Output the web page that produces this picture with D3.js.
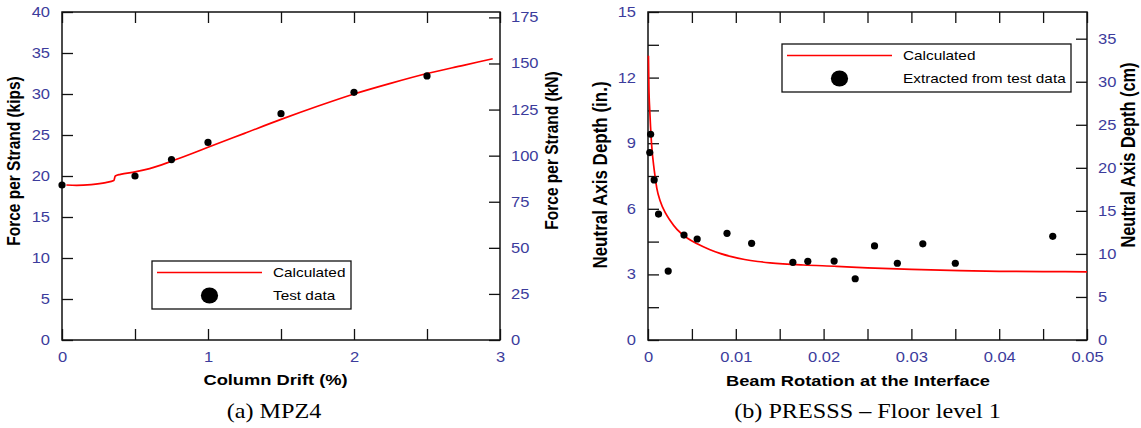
<!DOCTYPE html>
<html>
<head>
<meta charset="utf-8">
<script src="https://cdn.jsdelivr.net/npm/d3@7"></script>
<style>
  body { margin: 0; background: #fff; }
  svg { display: block; font-family: "Liberation Sans", Arial, sans-serif; }
</style>
</head>
<body>
<svg id="chart" width="1141" height="428"></svg>
<script>
// (a) MPZ4 - force per strand vs column drift
const driftTest = [0, 0.5, 0.75, 1.0, 1.5, 2.0, 2.5];
const forceTest = [18.9, 20.0, 22.0, 24.1, 27.6, 30.2, 32.2];
const driftCalc = [0.03, 0.1, 0.2, 0.3, 0.355, 0.365, 0.4, 0.5, 0.6, 0.75, 0.9, 1.0, 1.25, 1.5, 1.75, 2.0, 2.25, 2.5, 2.75, 2.95];
const forceCalc = [18.9, 18.85, 18.95, 19.2, 19.45, 20.0, 20.2, 20.5, 20.9, 21.8, 22.8, 23.5, 25.2, 26.9, 28.5, 30.0, 31.3, 32.5, 33.5, 34.3];

// (b) PRESSS floor level 1 - neutral axis depth vs beam rotation
const rotTest = [0.0002, 0.0003, 0.0007, 0.0012, 0.0023, 0.0041, 0.0056, 0.0090, 0.0118, 0.0165, 0.0182, 0.0212, 0.0236, 0.0258, 0.0284, 0.0313, 0.0350, 0.0461];
const depthTest = [8.57, 9.41, 7.32, 5.76, 3.15, 4.80, 4.62, 4.88, 4.42, 3.55, 3.60, 3.61, 2.80, 4.30, 3.51, 4.40, 3.51, 4.74];
const rotCalc = [0.00005, 0.0001, 0.0002, 0.0004, 0.0007, 0.001, 0.0014, 0.002, 0.0025, 0.0033, 0.0045, 0.0056, 0.007, 0.0082, 0.0095, 0.011, 0.0125, 0.0139, 0.0177, 0.0215, 0.025, 0.03, 0.0355, 0.04, 0.045, 0.05];
const depthCalc = [13.0, 11.6, 10.5, 9.0, 7.8, 6.95, 6.35, 5.8, 5.48, 5.06, 4.65, 4.40, 4.14, 3.96, 3.81, 3.68, 3.59, 3.53, 3.43, 3.37, 3.3, 3.23, 3.17, 3.14, 3.13, 3.12];

// ticks
const driftTicks = [0, 0.5, 1, 1.5, 2, 2.5, 3];
const kipTicks = [0, 5, 10, 15, 20, 25, 30, 35, 40];
const kNTicks = [0, 25, 50, 75, 100, 125, 150, 175];
const rotTicks = d3.range(0, 0.0501, 0.005);
const inTicks = d3.range(0, 15.01, 1.5);
const cmTicks = [0, 5, 10, 15, 20, 25, 30, 35];

const KIP_TO_KN = 4.448222;
const IN_TO_CM = 2.54;

const SX = 1.18;            // picture is a bit wider than tall
const tickColor = '#3c3c9c';
const svg = d3.select('#chart');

// stretch d3 axis labels horizontally without moving them
function stretchLabels(g) {
    g.selectAll('text').each(function () {
        let t = d3.select(this);
        let x = +t.attr('x') || 0, y = +t.attr('y') || 0;
        t.attr('x', 0).attr('y', 0)
            .attr('transform', 'translate(' + x + ',' + y + ') scale(' + SX + ',1)');
    });
}

function styleAxis(g) {
    g.select('.domain').remove();
    g.selectAll('line').attr('stroke', '#111').attr('stroke-width', 1.3);
    g.selectAll('text')
        .attr('fill', tickColor)
        .style('font-size', '14px')
        .style('font-family', '"Liberation Sans", Arial, sans-serif');
    stretchLabels(g);
}

function hText(x, y, str, size, opts) {
    opts = opts || {};
    return svg.append('text')
        .attr('transform', 'translate(' + x + ',' + y + ') scale(' + SX + ',1)')
        .attr('text-anchor', opts.anchor || 'middle')
        .style('font-size', size + 'px')
        .style('font-weight', opts.bold ? 'bold' : 'normal')
        .style('font-family', opts.serif ? '"Liberation Serif", "Times New Roman", serif' : null)
        .attr('fill', '#000')
        .text(str);
}

function vText(x, y, str, size) {
    return svg.append('text')
        .attr('transform', 'translate(' + x + ',' + y + ') scale(' + SX + ',1) rotate(-90)')
        .attr('text-anchor', 'middle')
        .style('font-size', size + 'px')
        .style('font-weight', 'bold')
        .attr('fill', '#000')
        .text(str);
}

function panel(cfg) {
    let x = d3.scaleLinear().domain(cfg.xDomain).range([cfg.left, cfg.right]);
    let y = d3.scaleLinear().domain(cfg.yDomain).range([cfg.bottom, cfg.top]);
    let y2 = d3.scaleLinear().domain([0, cfg.yDomain[1] * cfg.factor]).range([cfg.bottom, cfg.top]);
    let g = svg.append('g');

    // bottom axis with labels
    g.append('g')
        .attr('transform', 'translate(0,' + cfg.bottom + ')')
        .call(d3.axisBottom(x).tickValues(cfg.xTicks).tickSize(-11).tickPadding(12)
            .tickFormat(cfg.xFormat))
        .call(styleAxis);
    // top axis, ticks only
    g.append('g')
        .attr('transform', 'translate(0,' + cfg.top + ')')
        .call(d3.axisTop(x).tickValues(cfg.xTicks).tickSize(-11).tickFormat(''))
        .call(styleAxis);
    g.append('g')
        .attr('transform', 'translate(' + cfg.left + ',0)')
        .call(d3.axisLeft(y).tickValues(cfg.yTicks).tickSize(-11).tickPadding(12)
            .tickFormat(cfg.yFormat))
        .call(styleAxis);
    g.append('g')
        .attr('transform', 'translate(' + cfg.right + ',0)')
        .call(d3.axisRight(y2).tickValues(cfg.y2Ticks).tickSize(-11).tickPadding(11)
            .tickFormat(d3.format('d')))
        .call(styleAxis);

    // frame
    g.append('rect')
        .attr('x', cfg.left).attr('y', cfg.top)
        .attr('width', cfg.right - cfg.left).attr('height', cfg.bottom - cfg.top)
        .attr('fill', 'none').attr('stroke', '#111').attr('stroke-width', 1.5);

    // calculated curve
    let line = d3.line()
        .x(d => x(d[0]))
        .y(d => y(d[1]))
        .curve(d3.curveMonotoneX);
    g.append('path')
        .datum(d3.zip(cfg.calcX, cfg.calcY))
        .attr('d', line)
        .attr('fill', 'none')
        .attr('stroke', '#ff0000')
        .attr('stroke-width', 1.7);

    // test points
    g.selectAll('circle.pt')
        .data(d3.zip(cfg.testX, cfg.testY))
        .join('circle')
        .attr('class', 'pt')
        .attr('cx', d => x(d[0]))
        .attr('cy', d => y(d[1]))
        .attr('r', 3.6)
        .attr('fill', '#000');

    // legend
    let L = cfg.legend;
    g.append('rect')
        .attr('x', L.x).attr('y', L.y).attr('width', L.w).attr('height', L.h)
        .attr('fill', '#fff').attr('stroke', '#111').attr('stroke-width', 1.3);
    g.append('line')
        .attr('x1', L.x + 5).attr('x2', L.x + 110)
        .attr('y1', L.y + 11.5).attr('y2', L.y + 11.5)
        .attr('stroke', '#ff0000').attr('stroke-width', 1.5);
    g.append('ellipse')
        .attr('cx', L.x + 57.5).attr('cy', L.y + 34.5)
        .attr('rx', 8.6).attr('ry', 8)
        .attr('fill', '#000');
    hText(L.x + 121, L.y + 16, L.label1, 13, { anchor: 'start' });
    hText(L.x + 121, L.y + 39, L.label2, 13, { anchor: 'start' });
}

panel({
    left: 62, right: 500, top: 12, bottom: 340,
    xDomain: [0, 3], yDomain: [0, 40], factor: KIP_TO_KN,
    xTicks: driftTicks, yTicks: kipTicks, y2Ticks: kNTicks,
    xFormat: d => Number.isInteger(d) ? d : '',
    yFormat: d3.format('d'),
    calcX: driftCalc, calcY: forceCalc, testX: driftTest, testY: forceTest,
    legend: { x: 152, y: 261, w: 199, h: 48, label1: 'Calculated', label2: 'Test data' }
});

panel({
    left: 648, right: 1087, top: 12, bottom: 340,
    xDomain: [0, 0.05], yDomain: [0, 15], factor: IN_TO_CM,
    xTicks: rotTicks, yTicks: inTicks, y2Ticks: cmTicks,
    xFormat: (d, i) => i % 2 === 0 ? (i === 0 ? '0' : d3.format('.2f')(d)) : '',
    yFormat: (d, i) => i % 2 === 0 ? d3.format('d')(d) : '',
    calcX: rotCalc, calcY: depthCalc, testX: rotTest, testY: depthTest,
    legend: { x: 782, y: 44, w: 289, h: 48, label1: 'Calculated', label2: 'Extracted from test data' }
});

// axis titles
hText(275.5, 385, 'Column Drift (%)', 15.5, { bold: true });
hText(858, 386, 'Beam Rotation at the Interface', 15.5, { bold: true });
vText(20, 161, 'Force per Strand (kips)', 15.5);
vText(558, 150.5, 'Force per Strand (kN)', 15.5);
vText(607, 175, 'Neutral Axis Depth (in.)', 17);
vText(1135, 155, 'Neutral Axis Depth (cm)', 16.4);

// captions
hText(274, 418, '(a) MPZ4', 20.5, { serif: true });
hText(867.5, 418, '(b) PRESSS \u2013 Floor level 1', 20.5, { serif: true });
</script>
</body>
</html>
